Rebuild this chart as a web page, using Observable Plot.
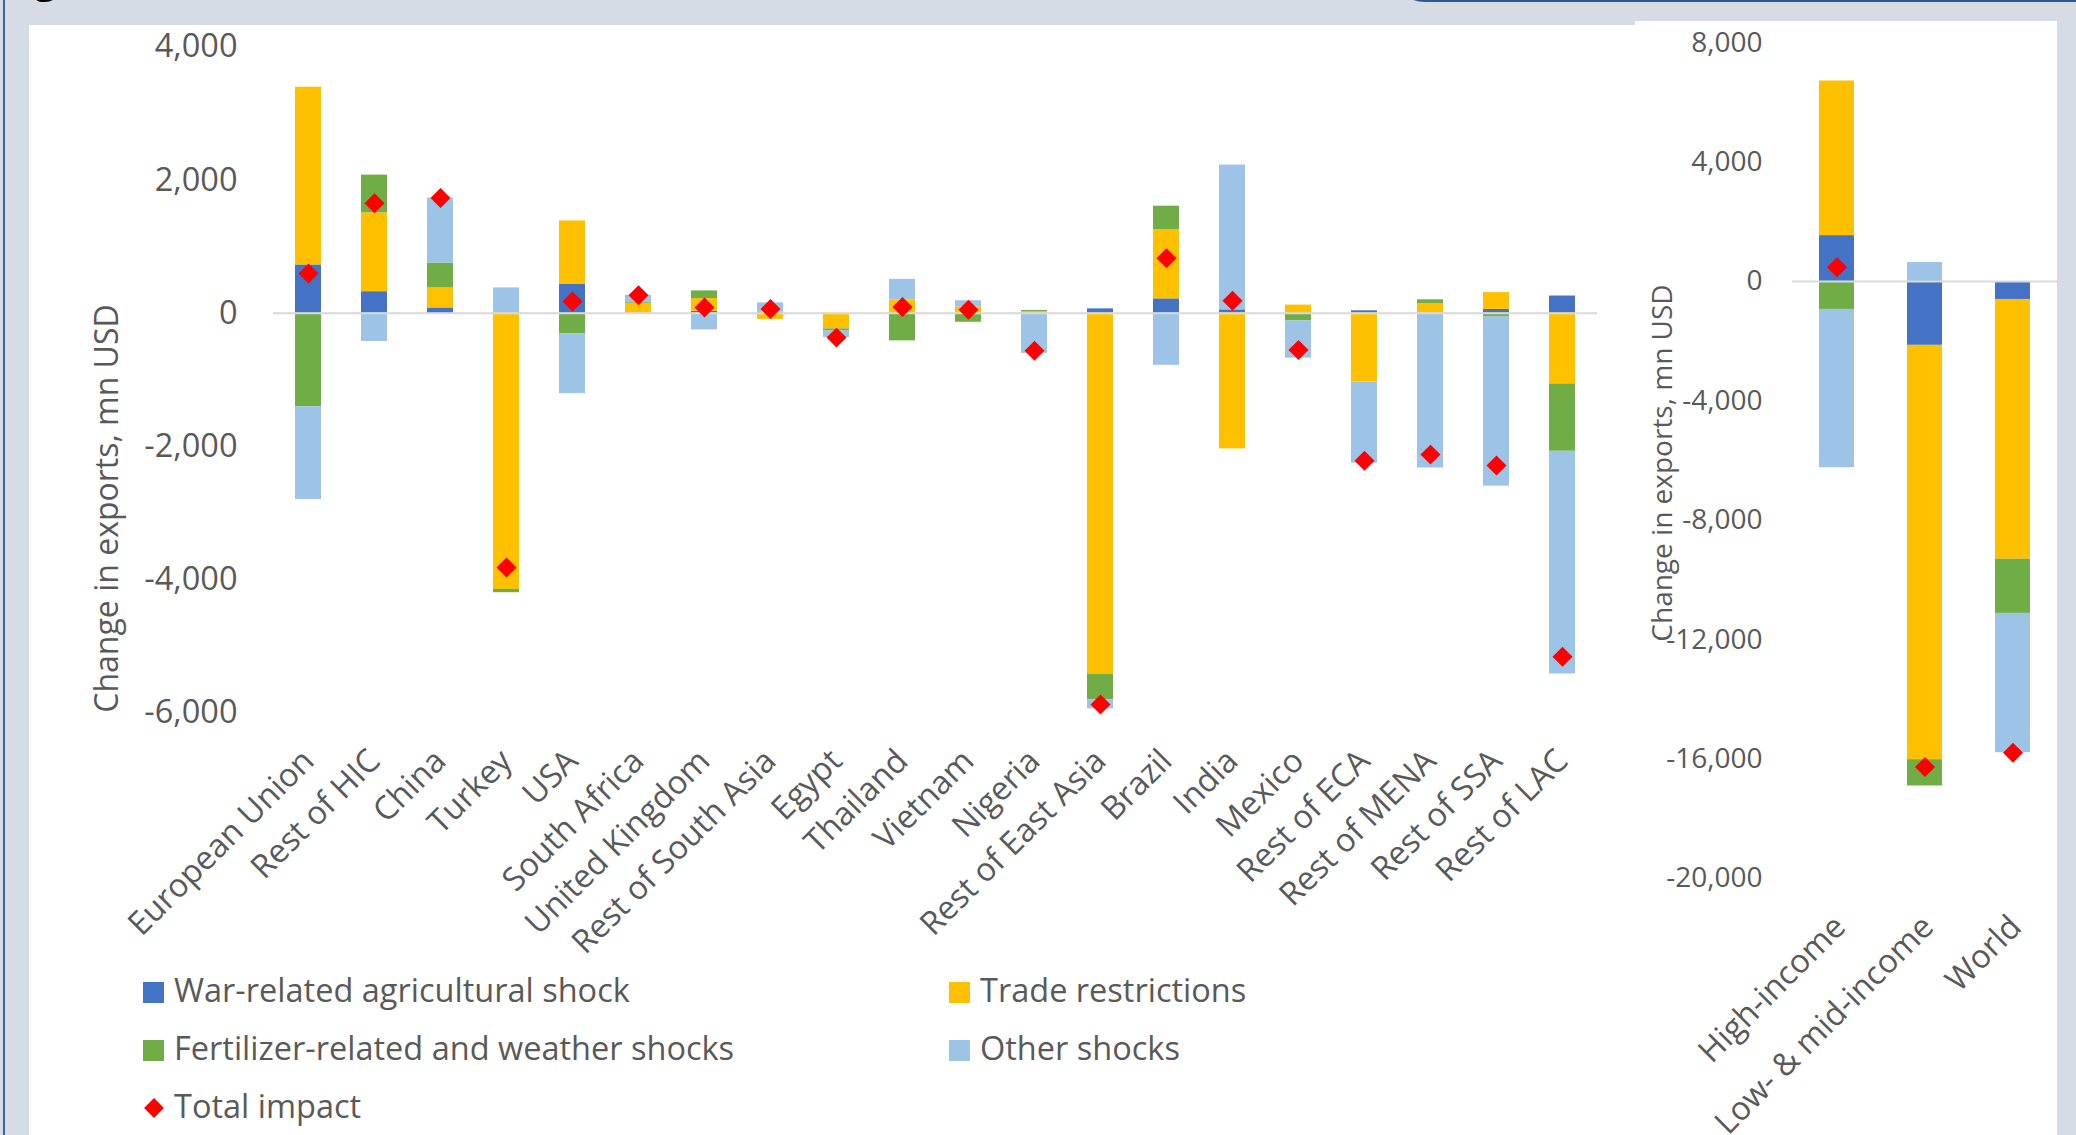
<!DOCTYPE html>
<html>
<head>
<meta charset="utf-8">
<script src="https://cdn.jsdelivr.net/npm/d3@7"></script>
<script src="https://cdn.jsdelivr.net/npm/@observablehq/plot@0.6"></script>
<style>
  body { margin: 0; background: #D6DCE5; }
  #page { position: relative; width: 2076px; height: 1135px; overflow: hidden; background: #D6DCE5; font-family: "Open Sans", Lato, sans-serif; }
  .frame-line { position: absolute; left: 3px; top: 0; width: 2px; height: 1135px; background: #3F62A6; }
  .top-curve { position: absolute; left: 1389px; top: -38px; width: 720px; height: 40px; box-sizing: border-box;
               border-left: 2px solid #2F5597; border-bottom: 2px solid #2F5597; border-bottom-left-radius: 36px; }
  .heading-frag { position: absolute; left: 34px; top: -49px; font-size: 42px; line-height: 1.2; color: #000; }
  .panel { position: absolute; background: #fff; }
  #left-panel { left: 29px; top: 25px; width: 1606px; height: 1110px; }
  #right-panel { left: 1635px; top: 21px; width: 422px; height: 1114px; }
  .chart { position: absolute; top: 0; }
  #left-chart { left: 0; }
  #right-chart { left: 1635px; }
  .legend-item { position: absolute; font-size: 32.5px; line-height: 1.2; color: #595959; white-space: nowrap; }
  .swatch { position: absolute; width: 21px; height: 21px; }
  .legend-diamond { position: absolute; width: 14px; height: 14px; background: #FF0000; transform: rotate(45deg); }
</style>
</head>
<body>
<div id="page">
  <div class="frame-line"></div>
  <div class="top-curve"></div>
  <div class="heading-frag">g</div>
  <div class="panel" id="left-panel"></div>
  <div class="panel" id="right-panel"></div>
  <div class="chart" id="left-chart"></div>
  <div class="chart" id="right-chart"></div>
  <div id="legend"></div>
</div>
<script>
// Shock components of the change in exports, mn USD, by exporter
const regions = ["European Union", "Rest of HIC", "China", "Turkey", "USA", "South Africa", "United Kingdom",
  "Rest of South Asia", "Egypt", "Thailand", "Vietnam", "Nigeria", "Rest of East Asia", "Brazil", "India",
  "Mexico", "Rest of ECA", "Rest of MENA", "Rest of SSA", "Rest of LAC"];
const warShock   = [725, 323, 79, 0, 431, 0, 30, 0, 0, 0, 0, 0, 65, 215, 50, 0, 36, 0, 57, 258];
const tradeRestr = [2671, 1185, 301, -4150, 955, 150, 190, -93, -237, 200, 93, 20, -5428, 1042, -2039, 122, -1034, 144, 252, -1063];
const fertWeather = [-1407, 567, 374, -50, -309, 20, 115, 15, -30, -416, -136, 20, -381, 351, 0, -115, 0, 57, -57, -1012];
const otherShocks = [-1393, -424, 976, 380, -900, 100, -251, 140, -100, 309, 94, -603, -136, -783, 2176, -560, -1220, -2326, -2542, -3346];
const totalImpact = [596, 1651, 1730, -3820, 177, 270, 84, 62, -367, 93, 51, -563, -5880, 825, 187, -553, -2218, -2125, -2290, -5163];

// Aggregates by income group
const incomeGroups = ["High-income", "Low- & mid-income", "World"];
const groupWar   = [1537, -2139, -602];
const groupTrade = [5180, -13881, -8701];
const groupFert  = [-936, -880, -1816];
const groupOther = [-5302, 635, -4667];
const groupTotal = [479, -16265, -15786];

const leftTicks  = [-6000, -4000, -2000, 0, 2000, 4000];
const rightTicks = [-20000, -16000, -12000, -8000, -4000, 0, 4000, 8000];

const seriesNames  = ["War-related agricultural shock", "Trade restrictions", "Fertilizer-related and weather shocks", "Other shocks"];
const seriesColors = ["#4472C4", "#FFC000", "#70AD47", "#9DC3E6"];
const totalName = "Total impact";
const totalColor = "#FF0000";

const textColor = "#595959";
const fontFamily = "'Open Sans', Lato, sans-serif";
const fmt = d => d.toLocaleString("en-US");

// Long format: one row per category and shock, kept in series order so the stack
// puts positives upward and negatives downward in the same order.
function stackRows(cats, cols) {
  return cats.flatMap((c, i) => cols.map((col, k) => ({cat: c, series: seriesNames[k], value: col[i]})));
}

function panel({cats, cols, totals, ticks, width, height, marginLeft, marginRight, marginTop, marginBottom,
                tickFont, tickPadding, labelFont, labelDy, labelDx, title, titleFont, titleX, titleY}) {
  const rows = stackRows(cats, cols);
  const points = cats.map((c, i) => ({cat: c, total: totals[i]}));
  return Plot.plot({
    width, height, marginLeft, marginRight, marginTop, marginBottom,
    style: {background: "transparent", overflow: "visible", fontFamily, color: textColor},
    x: {domain: cats, paddingInner: 0.6, paddingOuter: 0.3, axis: null},
    y: {domain: [ticks[0], ticks[ticks.length - 1]]},
    color: {domain: seriesNames, range: seriesColors},
    marks: [
      Plot.axisY({ticks, tickSize: 0, tickPadding, tickFormat: fmt, fontSize: tickFont, fill: textColor, label: null}),
      Plot.barY(rows, {x: "cat", y: "value", fill: "series"}),
      Plot.ruleY([0], {stroke: "#D9D9D9", strokeWidth: 2}),
      Plot.dot(points, {x: "cat", y: "total", symbol: "diamond2", r: 9, fill: totalColor}),
      Plot.text(cats, {x: d => d, frameAnchor: "bottom", dy: labelDy, dx: labelDx, rotate: -45,
                       textAnchor: "end", lineAnchor: "middle", fontSize: labelFont, fill: textColor}),
      Plot.text([title], {frameAnchor: "top-left", dx: titleX - marginLeft, dy: titleY - marginTop, rotate: -90,
                          textAnchor: "middle", lineAnchor: "middle", fontSize: titleFont, fill: textColor})
    ]
  });
}

document.getElementById("left-chart").append(panel({
  cats: regions, cols: [warShock, tradeRestr, fertWeather, otherShocks], totals: totalImpact, ticks: leftTicks,
  width: 1635, height: 1135, marginLeft: 273, marginRight: 38, marginTop: 46.5, marginBottom: 423,
  tickFont: 32.5, tickPadding: 36, labelFont: 32.5, labelDy: 43, labelDx: 0,
  title: "Change in exports, mn USD", titleFont: 32, titleX: 107.5, titleY: 508
}));

document.getElementById("right-chart").append(panel({
  cats: incomeGroups, cols: [groupWar, groupTrade, groupFert, groupOther], totals: groupTotal, ticks: rightTicks,
  width: 422, height: 1135, marginLeft: 157, marginRight: 0, marginTop: 42.2, marginBottom: 257,
  tickFont: 28, tickPadding: 30, labelFont: 32.5, labelDy: 43, labelDx: 3,
  title: "Change in exports, mn USD", titleFont: 28, titleX: 28, titleY: 462.5
}));

// Legend below the left panel
const legend = document.getElementById("legend");
const legendItems = [
  {name: seriesNames[0], color: seriesColors[0], x: 143, baseline: 1001.7},
  {name: seriesNames[1], color: seriesColors[1], x: 949, baseline: 1001.7},
  {name: seriesNames[2], color: seriesColors[2], x: 143, baseline: 1060},
  {name: seriesNames[3], color: seriesColors[3], x: 949, baseline: 1060},
  {name: totalName, color: totalColor, x: 143, baseline: 1118.3, diamond: true}
];
for (const it of legendItems) {
  const mark = document.createElement("div");
  if (it.diamond) {
    mark.className = "legend-diamond";
    mark.style.left = (it.x + 3.5) + "px";
    mark.style.top = (it.baseline - 17.5) + "px";
  } else {
    mark.className = "swatch";
    mark.style.left = it.x + "px";
    mark.style.top = (it.baseline - 20) + "px";
    mark.style.background = it.color;
  }
  legend.append(mark);
  const label = document.createElement("div");
  label.className = "legend-item";
  label.textContent = it.name;
  label.style.left = (it.x + 31) + "px";
  label.style.top = (it.baseline - 0.988 * 32.5) + "px";
  legend.append(label);
}
</script>
</body>
</html>
